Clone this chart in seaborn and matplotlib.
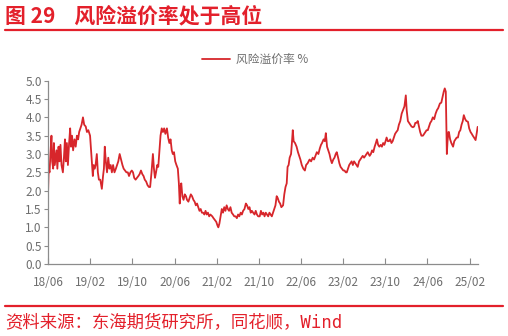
import matplotlib
matplotlib.use("Agg")
import matplotlib.pyplot as plt
import matplotlib.dates as mdates
import seaborn as sns
import pandas as pd

# ---- data ----
dates_2018 = ["2018-06-01","2018-06-05","2018-06-10","2018-06-15","2018-06-21","2018-06-25",
              "2018-07-01","2018-07-05","2018-07-10","2018-07-15","2018-07-20","2018-07-25",
              "2018-08-01","2018-08-06","2018-08-12","2018-08-18","2018-08-26",
              "2018-09-01","2018-09-07","2018-09-12","2018-09-18","2018-09-24",
              "2018-10-01","2018-10-07","2018-10-12","2018-10-18","2018-10-24",
              "2018-11-01","2018-11-08","2018-11-15","2018-11-22","2018-11-28",
              "2018-12-05","2018-12-12","2018-12-20","2018-12-27"]
values_2018 = [1.9,2.6,2.5,3.0,3.5,2.8,
               2.6,3.3,2.7,2.9,3.1,2.6,
               3.2,2.8,3.25,2.7,2.5,
               2.9,3.4,2.8,3.3,2.7,
               3.3,3.7,3.2,3.5,3.1,
               3.4,3.2,3.5,3.4,3.6,
               3.7,3.8,4.0,3.8]

dates_2019 = ["2019-01-05","2019-01-12","2019-01-20","2019-01-30","2019-02-06","2019-02-12",
              "2019-02-15","2019-02-20","2019-02-26","2019-03-03","2019-03-10","2019-03-16",
              "2019-03-22","2019-03-30","2019-04-08","2019-04-15","2019-04-20","2019-04-25",
              "2019-05-01","2019-05-08","2019-05-15","2019-05-22","2019-05-29",
              "2019-06-05","2019-06-12","2019-06-20","2019-06-28",
              "2019-07-05","2019-07-12","2019-07-20","2019-07-28",
              "2019-08-05","2019-08-12","2019-08-20","2019-08-28",
              "2019-09-05","2019-09-12","2019-09-20","2019-09-28",
              "2019-10-05","2019-10-12","2019-10-20","2019-10-28",
              "2019-11-05","2019-11-12","2019-11-20","2019-11-28",
              "2019-12-05","2019-12-12","2019-12-20","2019-12-28"]
values_2019 = [3.75,3.6,3.65,3.5,3.0,2.6,
               2.4,2.7,2.6,2.7,3.0,2.5,
               2.3,2.3,2.05,2.4,2.6,3.2,
               2.8,2.5,2.9,2.6,2.7,
               2.5,2.7,2.5,2.6,
               2.7,2.8,3.0,2.85,
               2.7,2.6,2.55,2.5,
               2.5,2.4,2.5,2.55,
               2.5,2.35,2.3,2.35,
               2.4,2.45,2.55,2.45,
               2.4,2.3,2.25,2.15]

dates_2020 = ["2020-01-05","2020-01-12","2020-01-20","2020-01-28","2020-02-03","2020-02-09",
              "2020-02-15","2020-02-22","2020-02-28","2020-03-06","2020-03-12","2020-03-19",
              "2020-03-26","2020-04-02","2020-04-09","2020-04-18","2020-04-25",
              "2020-05-02","2020-05-09","2020-05-16","2020-05-22","2020-05-29",
              "2020-06-05","2020-06-12","2020-06-20","2020-06-26",
              "2020-07-01","2020-07-05","2020-07-10","2020-07-16","2020-07-23","2020-07-30",
              "2020-08-06","2020-08-12","2020-08-20","2020-08-27",
              "2020-09-03","2020-09-10","2020-09-18","2020-09-25",
              "2020-10-02","2020-10-09","2020-10-16","2020-10-23","2020-10-30",
              "2020-11-06","2020-11-13","2020-11-20","2020-11-27",
              "2020-12-04","2020-12-11","2020-12-18","2020-12-25"]
values_2020 = [2.1,2.1,2.5,3.0,2.6,2.35,
               2.5,2.7,2.65,3.1,3.5,3.7,
               3.6,3.7,3.55,3.7,3.45,
               3.3,3.4,3.1,3.0,3.05,
               2.8,2.7,2.6,2.2,
               1.65,2.1,2.2,1.85,1.75,1.9,
               1.85,1.75,1.7,1.8,
               1.9,1.85,1.75,1.7,
               1.6,1.65,1.55,1.45,1.5,
               1.4,1.4,1.35,1.45,
               1.35,1.4,1.3,1.35]

dates_2021 = ["2021-01-05","2021-01-12","2021-01-20","2021-01-28","2021-02-04","2021-02-09",
              "2021-02-15","2021-02-22","2021-03-01","2021-03-08","2021-03-15","2021-03-22",
              "2021-03-29","2021-04-05","2021-04-12","2021-04-20","2021-04-27",
              "2021-05-05","2021-05-12","2021-05-20","2021-05-27",
              "2021-06-03","2021-06-10","2021-06-18","2021-06-25",
              "2021-07-02","2021-07-10","2021-07-18","2021-07-25",
              "2021-08-01","2021-08-08","2021-08-15","2021-08-22","2021-08-29",
              "2021-09-06","2021-09-13","2021-09-20","2021-09-27",
              "2021-10-06","2021-10-13","2021-10-20","2021-10-27",
              "2021-11-03","2021-11-10","2021-11-17","2021-11-24",
              "2021-12-01","2021-12-08","2021-12-15","2021-12-22","2021-12-29"]
values_2021 = [1.3,1.25,1.2,1.15,1.05,1.0,
               1.1,1.3,1.5,1.4,1.55,1.45,
               1.6,1.5,1.45,1.55,1.4,
               1.35,1.3,1.3,1.25,
               1.35,1.3,1.4,1.35,
               1.45,1.5,1.65,1.6,
               1.5,1.55,1.4,1.45,1.4,
               1.35,1.45,1.35,1.3,
               1.3,1.45,1.35,1.4,
               1.3,1.4,1.35,1.3,
               1.4,1.35,1.3,1.4,1.5]

dates_2022 = ["2022-01-05","2022-01-12","2022-01-18","2022-01-25","2022-02-01","2022-02-08",
              "2022-02-18","2022-02-25","2022-03-04","2022-03-11","2022-03-16","2022-03-22",
              "2022-03-28","2022-04-05","2022-04-10","2022-04-15","2022-04-20","2022-04-28",
              "2022-05-07","2022-05-15","2022-05-22","2022-05-29",
              "2022-06-06","2022-06-15","2022-06-24",
              "2022-07-01","2022-07-10","2022-07-21","2022-07-30",
              "2022-08-08","2022-08-16","2022-08-24",
              "2022-09-01","2022-09-10","2022-09-18","2022-09-25",
              "2022-10-01","2022-10-10","2022-10-17","2022-10-23","2022-10-30",
              "2022-11-06","2022-11-13","2022-11-20","2022-11-27",
              "2022-12-05","2022-12-12","2022-12-19","2022-12-25"]
values_2022 = [1.6,1.85,1.8,1.7,1.65,1.55,
               1.6,1.9,2.1,2.2,2.65,2.7,
               2.9,3.0,3.3,3.65,3.35,3.3,
               3.2,3.05,2.95,2.85,
               2.7,2.6,2.55,
               2.7,2.75,2.85,2.8,
               2.9,2.85,2.95,
               3.05,3.0,3.15,3.25,
               3.3,3.4,3.35,3.57,3.2,
               3.1,3.0,2.85,2.75,
               2.85,2.9,3.0,3.05]

dates_2023 = ["2023-01-02","2023-01-09","2023-01-16","2023-01-24",
              "2023-02-01","2023-02-08","2023-02-15","2023-02-21","2023-02-28",
              "2023-03-07","2023-03-14","2023-03-21","2023-03-28",
              "2023-04-04","2023-04-11","2023-04-18","2023-04-25",
              "2023-05-03","2023-05-10","2023-05-17","2023-05-24",
              "2023-06-01","2023-06-08","2023-06-15","2023-06-22",
              "2023-07-03","2023-07-10","2023-07-17","2023-07-24",
              "2023-08-01","2023-08-08","2023-08-14","2023-08-21","2023-08-28",
              "2023-09-05","2023-09-12","2023-09-19","2023-09-26",
              "2023-10-03","2023-10-09","2023-10-16","2023-10-23","2023-10-30",
              "2023-11-06","2023-11-13","2023-11-20","2023-11-27",
              "2023-12-04","2023-12-12","2023-12-19","2023-12-27"]
values_2023 = [2.9,2.75,2.65,2.6,
               2.55,2.55,2.5,2.5,2.6,
               2.7,2.75,2.8,2.7,
               2.8,2.75,2.7,2.65,
               2.8,2.85,2.9,2.95,
               2.9,2.95,3.0,3.05,
               2.95,3.0,3.1,3.05,
               3.2,3.3,3.4,3.25,3.2,
               3.25,3.2,3.3,3.25,
               3.35,3.45,3.35,3.35,3.4,
               3.3,3.35,3.45,3.55,
               3.6,3.65,3.8,3.9]

dates_2024 = ["2024-01-04","2024-01-12","2024-01-20","2024-01-28","2024-02-02","2024-02-09",
              "2024-02-16","2024-02-23","2024-03-01","2024-03-09","2024-03-16","2024-03-23",
              "2024-03-30","2024-04-06","2024-04-13","2024-04-20","2024-04-27",
              "2024-05-06","2024-05-13","2024-05-20","2024-05-27",
              "2024-06-03","2024-06-10","2024-06-17","2024-06-24",
              "2024-07-02","2024-07-10","2024-07-18","2024-07-26",
              "2024-08-02","2024-08-12","2024-08-20","2024-08-27",
              "2024-09-03","2024-09-09","2024-09-15","2024-09-21","2024-09-25","2024-09-30",
              "2024-10-03","2024-10-10","2024-10-17","2024-10-27",
              "2024-11-03","2024-11-10","2024-11-17","2024-11-24",
              "2024-12-01","2024-12-08","2024-12-15","2024-12-22","2024-12-28"]
values_2024 = [4.1,4.2,4.3,4.6,4.2,3.9,
               3.85,3.8,3.75,3.73,3.75,3.85,
               3.85,3.9,3.75,3.6,3.5,
               3.5,3.55,3.6,3.65,
               3.65,3.75,3.85,3.9,
               4.0,3.95,4.1,4.2,
               4.25,4.38,4.4,4.55,
               4.7,4.79,4.7,3.0,3.35,3.6,
               3.6,3.4,3.3,3.2,
               3.35,3.4,3.45,3.45,
               3.6,3.65,3.8,3.9,4.06]

dates_2025 = ["2025-01-05","2025-01-12","2025-01-21","2025-01-28","2025-02-05","2025-02-12",
              "2025-02-18","2025-02-25","2025-03-06","2025-03-12","2025-03-18"]
values_2025 = [3.95,3.9,3.88,3.7,3.6,3.55,
               3.5,3.45,3.38,3.55,3.74]

tick_dates = ["2018-06-01","2019-02-01","2019-10-01","2020-06-01","2021-02-01","2021-10-01",
              "2022-06-01","2023-02-01","2023-10-01","2024-06-01","2025-02-01"]
y_ticks = [0.0,0.5,1.0,1.5,2.0,2.5,3.0,3.5,4.0,4.5,5.0]

series_name = "风险溢价率 %"
title_text = "图 29    风险溢价率处于高位"
source_text = "资料来源：东海期货研究所，同花顺，Wind"

dates = (dates_2018 + dates_2019 + dates_2020 + dates_2021 + dates_2022 +
         dates_2023 + dates_2024 + dates_2025)
values = (values_2018 + values_2019 + values_2020 + values_2021 + values_2022 +
          values_2023 + values_2024 + values_2025)
df = pd.DataFrame({"date": pd.to_datetime(dates), "value": values})

# ---- style ----
sns.set_theme(style="white")
plt.rcParams["font.family"] = ["Noto Sans CJK SC", "DejaVu Sans"]

RED = "#E3202B"
LINE_RED = "#D7262B"

fig = plt.figure(figsize=(5.08, 3.36), dpi=100)
ax = fig.add_axes([48/508, (336-264)/336, (478-48)/508, (264-80.7)/336])

sns.lineplot(data=df, x="date", y="value", ax=ax, color=LINE_RED, linewidth=1.3,
             label=series_name, legend=False)

ax.set_ylim(0, 5)
ax.set_xlim(pd.Timestamp("2018-06-01"), pd.Timestamp("2025-03-20"))
ax.set_yticks(y_ticks)
ax.set_yticklabels([f"{v:.1f}" for v in y_ticks])
ax.set_xticks(pd.to_datetime(tick_dates))
ax.xaxis.set_major_formatter(mdates.DateFormatter("%y/%m"))
ax.set_xlabel("")
ax.set_ylabel("")

for s in ["top", "right"]:
    ax.spines[s].set_visible(False)
for s in ["left", "bottom"]:
    ax.spines[s].set_color("#8C8C8C")
    ax.spines[s].set_linewidth(0.9)

ax.tick_params(axis="y", direction="out", length=3, width=0.8, color="#8C8C8C",
               labelsize=8.5, labelcolor="#6E6E6E", pad=1.5, left=True)
ax.tick_params(axis="x", direction="in", length=4, width=0.8, color="#8C8C8C",
               labelsize=8.5, labelcolor="#6E6E6E", pad=9, bottom=True)

# legend at top centre
leg = ax.legend(loc="upper center", bbox_to_anchor=(255/508, (336-48)/336),
                bbox_transform=fig.transFigure, frameon=False, fontsize=8.5,
                handlelength=2.4, handletextpad=0.5, borderaxespad=0)
for t in leg.get_texts():
    t.set_color("#6E6E6E")

# title, rules and source
fig.text(5/508, 1 - 16/336, title_text, color=RED, fontsize=15, fontweight="bold",
         va="center", ha="left")
fig.add_artist(plt.Line2D([5/508, 503/508], [1 - 30/336, 1 - 30/336],
                          transform=fig.transFigure, color=RED, linewidth=1.6))
fig.add_artist(plt.Line2D([5/508, 503/508], [1 - 306.3/336, 1 - 306.3/336],
                          transform=fig.transFigure, color=RED, linewidth=1.6))
fig.text(5/508, 1 - 322/336, source_text, color=RED, fontsize=12.5, va="center", ha="left",
         family=["DejaVu Sans Mono", "Noto Sans CJK SC"])

fig.savefig("out.png", dpi=100)
